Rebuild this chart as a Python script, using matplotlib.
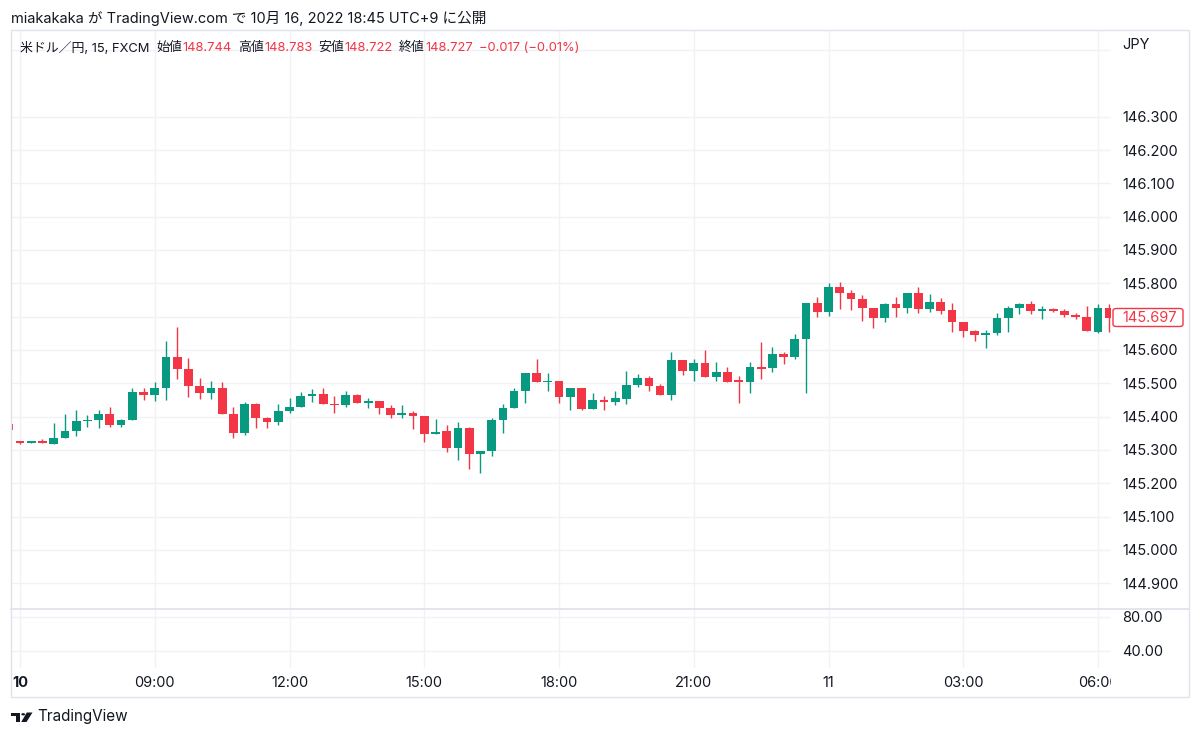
import numpy as np
import matplotlib
matplotlib.use("Agg")
import matplotlib.pyplot as plt
from matplotlib.patches import Rectangle, FancyBboxPatch, Polygon, Circle

plt.rcParams['font.family'] = ['Inter', 'Noto Sans CJK JP', 'DejaVu Sans']

# 15-minute USD/JPY bars, index 0 = 06:00 on the 10th (index -1 is the previous bar)
bar_index = list(range(-1, 98))
opens = [145.377,
         145.327, 145.321, 145.328, 145.318, 145.335, 145.356, 145.386, 145.390, 145.407, 145.375,
         145.390, 145.473, 145.465, 145.485, 145.578, 145.544, 145.493, 145.471, 145.486, 145.409,
         145.351, 145.438, 145.397, 145.384, 145.418, 145.430, 145.463, 145.467, 145.439, 145.434,
         145.464, 145.440, 145.448, 145.425, 145.405, 145.412, 145.402, 145.347, 145.356, 145.307,
         145.367, 145.288, 145.298, 145.390, 145.427, 145.478, 145.530, 145.504, 145.508, 145.460,
         145.486, 145.422, 145.450, 145.445, 145.454, 145.494, 145.516, 145.491, 145.465, 145.570,
         145.538, 145.561, 145.518, 145.535, 145.509, 145.505, 145.549, 145.545, 145.587, 145.578,
         145.633, 145.740, 145.715, 145.788, 145.770, 145.752, 145.727, 145.695, 145.737, 145.727,
         145.772, 145.722, 145.744, 145.720, 145.683, 145.658, 145.645, 145.652, 145.695, 145.725,
         145.737, 145.718, 145.722, 145.716, 145.704, 145.698, 145.655, 145.725]
highs = [145.377,
         145.327, 145.327, 145.332, 145.380, 145.408, 145.420, 145.405, 145.420, 145.428, 145.394,
         145.485, 145.487, 145.503, 145.626, 145.670, 145.577, 145.515, 145.507, 145.504, 145.428,
         145.444, 145.442, 145.400, 145.438, 145.456, 145.473, 145.483, 145.485, 145.462, 145.478,
         145.468, 145.455, 145.448, 145.435, 145.435, 145.418, 145.402, 145.392, 145.375, 145.384,
         145.370, 145.298, 145.397, 145.437, 145.485, 145.530, 145.572, 145.532, 145.508, 145.487,
         145.486, 145.470, 145.462, 145.477, 145.537, 145.528, 145.523, 145.498, 145.593, 145.570,
         145.572, 145.600, 145.565, 145.550, 145.522, 145.565, 145.625, 145.608, 145.595, 145.647,
         145.742, 145.760, 145.800, 145.805, 145.780, 145.765, 145.727, 145.740, 145.758, 145.772,
         145.790, 145.768, 145.756, 145.740, 145.685, 145.660, 145.660, 145.710, 145.732, 145.742,
         145.747, 145.732, 145.726, 145.724, 145.712, 145.732, 145.737, 145.737]
lows = [145.360,
        145.318, 145.321, 145.320, 145.318, 145.335, 145.342, 145.368, 145.365, 145.368, 145.368,
        145.390, 145.450, 145.448, 145.450, 145.513, 145.458, 145.453, 145.453, 145.409, 145.335,
        145.345, 145.367, 145.365, 145.375, 145.410, 145.430, 145.445, 145.437, 145.412, 145.430,
        145.440, 145.425, 145.408, 145.395, 145.395, 145.362, 145.325, 145.347, 145.295, 145.270,
        145.242, 145.232, 145.283, 145.350, 145.427, 145.440, 145.504, 145.478, 145.440, 145.420,
        145.420, 145.422, 145.420, 145.434, 145.437, 145.490, 145.478, 145.465, 145.450, 145.525,
        145.508, 145.518, 145.508, 145.505, 145.442, 145.472, 145.514, 145.534, 145.558, 145.572,
        145.470, 145.700, 145.702, 145.722, 145.720, 145.688, 145.665, 145.683, 145.700, 145.712,
        145.712, 145.715, 145.708, 145.655, 145.640, 145.627, 145.605, 145.645, 145.655, 145.707,
        145.707, 145.693, 145.713, 145.700, 145.694, 145.657, 145.650, 145.655]
closes = [145.360,
          145.322, 145.327, 145.320, 145.337, 145.356, 145.387, 145.390, 145.407, 145.375, 145.390,
          145.473, 145.466, 145.485, 145.578, 145.544, 145.492, 145.471, 145.486, 145.409, 145.352,
          145.438, 145.396, 145.385, 145.418, 145.429, 145.463, 145.468, 145.437, 145.435, 145.464,
          145.440, 145.448, 145.425, 145.405, 145.412, 145.402, 145.347, 145.355, 145.307, 145.367,
          145.288, 145.298, 145.391, 145.427, 145.478, 145.530, 145.504, 145.508, 145.460, 145.487,
          145.422, 145.450, 145.445, 145.455, 145.494, 145.516, 145.491, 145.465, 145.570, 145.538,
          145.561, 145.518, 145.535, 145.505, 145.505, 145.549, 145.544, 145.587, 145.580, 145.633,
          145.742, 145.715, 145.788, 145.770, 145.752, 145.727, 145.695, 145.737, 145.727, 145.772,
          145.722, 145.745, 145.718, 145.683, 145.658, 145.645, 145.652, 145.695, 145.725, 145.738,
          145.717, 145.722, 145.716, 145.705, 145.698, 145.657, 145.725, 145.697]

price_ticks = [144.9, 145.0, 145.1, 145.2, 145.3, 145.4, 145.5, 145.6, 145.7, 145.8,
               145.9, 146.0, 146.1, 146.2, 146.3]
lower_ticks = [40, 80]
time_pos = [0, 12, 24, 36, 48, 60, 72, 84, 96]
time_labels = ["10", "09:00", "12:00", "15:00", "18:00", "21:00", "11", "03:00", "06:00"]

header = "miakakaka が TradingView.com で 10月 16, 2022 18:45 UTC+9 に公開"
symbol = "米ドル／円, 15, FXCM"
ohlc_names = ["始値", "高値", "安値", "終値"]
ohlc_values = ["148.744", "148.783", "148.722", "148.727"]
change = "−0.017 (−0.01%)"
last_price = 145.697

UP = '#089981'
DOWN = '#f23645'
TEXT = '#131722'
GRID = '#f1f2f5'
BORDER = '#e0e3eb'

W, H = 1200, 737
fig = plt.figure(figsize=(W / 100, H / 100), dpi=100)
fig.patch.set_facecolor('white')


def fx(x):
    return x / W


def fy(y):
    return 1 - y / H


def rect(x0, y0, x1, y1):
    return [fx(x0), fy(y1), fx(x1) - fx(x0), fy(y0) - fy(y1)]


XLIM = (-0.801, 97.15)

ax = fig.add_axes(rect(11, 30, 1111, 609))
ax_low = fig.add_axes(rect(11, 609, 1111, 668))
ax_t = fig.add_axes(rect(11, 668, 1111, 697))

for a in (ax, ax_low, ax_t):
    a.set_xlim(*XLIM)
    for s in a.spines.values():
        s.set_visible(False)
    a.set_xticks([])

ax.set_ylim(144.823, 146.56)
ax_low.set_ylim(20, 89.4)
ax_t.set_ylim(0, 1)
ax_t.set_yticks([])

# grid
for p in price_ticks + [146.5]:
    ax.axhline(p, color=GRID, lw=1, zorder=0)
for v in lower_ticks:
    ax_low.axhline(v, color=GRID, lw=1, zorder=0)
for t in time_pos:
    ax.axvline(t, color=GRID, lw=1, zorder=0)
    ax_low.axvline(t, color=GRID, lw=1, zorder=0)

# candles
o = np.array(opens)
h = np.array(highs)
l = np.array(lows)
c = np.array(closes)
xs = np.array(bar_index)
colors = np.where(c >= o, UP, DOWN)
ax.vlines(xs, l, h, colors=colors, lw=1.0, zorder=2)
body_low = np.minimum(o, c)
body_h = np.maximum(np.abs(c - o), 0.0018)
ax.bar(xs, body_h, bottom=body_low, width=0.78, color=colors, lw=0, zorder=3)

# price axis
for a, ticks, fmt in ((ax, price_ticks, "{:.3f}"), (ax_low, lower_ticks, "{:.2f}")):
    a.yaxis.tick_right()
    a.set_yticks(ticks)
    a.set_yticklabels([fmt.format(t) for t in ticks])
    a.tick_params(axis='y', length=0, pad=8, labelsize=10.5, labelcolor=TEXT)

# time axis labels, clipped at the pane edge
for t, lab in zip(time_pos, time_labels):
    ax_t.text(t, 0.48, lab, ha='center', va='center', fontsize=10.5, color=TEXT,
              fontweight='bold' if lab == "10" else 'normal', clip_on=True)

# frame and pane divider
fig.add_artist(Rectangle((fx(11), fy(697)), fx(1189) - fx(11), fy(30) - fy(697),
                         transform=fig.transFigure, fill=False, ec=BORDER, lw=1))
fig.add_artist(plt.Line2D([fx(11), fx(1189)], [fy(609), fy(609)],
                          transform=fig.transFigure, color=BORDER, lw=1.3))

# last price label
fig.add_artist(FancyBboxPatch((fx(1113), fy(326.5)), fx(1183) - fx(1113), fy(308.5) - fy(326.5),
                              boxstyle="round,pad=0,rounding_size=0.003",
                              transform=fig.transFigure, fc='white', ec=DOWN, lw=1))
fig.text(fx(1122), fy(317.5), "{:.3f}".format(last_price), ha='left', va='center',
         fontsize=10.5, color=DOWN)

fig.text(fx(1122), fy(45), "JPY", ha='left', va='center', fontsize=10.5, color=TEXT)

# header
fig.text(fx(11), fy(18), header, ha='left', va='center', fontsize=10.5, color=TEXT)

# legend, laid out piece by piece
renderer = fig.canvas.get_renderer()
pieces = [(symbol, TEXT, 7)]
for nm, vl in zip(ohlc_names, ohlc_values):
    pieces.append((nm, TEXT, 0.5))
    pieces.append((vl, DOWN, 6))
pieces.append((change, DOWN, 0))
cur = 20
for txt, col, gap in pieces:
    t = fig.text(fx(cur), fy(48), txt, ha='left', va='center', fontsize=9.3, color=col)
    cur += t.get_window_extent(renderer).width + gap

# footer logo
def pts(coords):
    return [(fx(a), fy(b)) for a, b in coords]


fig.add_artist(Polygon(pts([(11, 712.5), (19.5, 712.5), (19.5, 722), (15.5, 722), (15.5, 716), (11, 716)]),
                       closed=True, transform=fig.transFigure, fc=TEXT, ec='none'))
fig.add_artist(Circle((fx(23.2), fy(714.3)), 1.9 / W, transform=fig.transFigure, fc=TEXT, ec='none'))
fig.add_artist(Polygon(pts([(26.8, 712.5), (32.5, 712.5), (26.5, 722), (21.2, 722)]),
                       closed=True, transform=fig.transFigure, fc=TEXT, ec='none'))
fig.text(fx(37), fy(717), "TradingView", ha='left', va='center', fontsize=11, color=TEXT)

fig.savefig("out.png", dpi=100)
